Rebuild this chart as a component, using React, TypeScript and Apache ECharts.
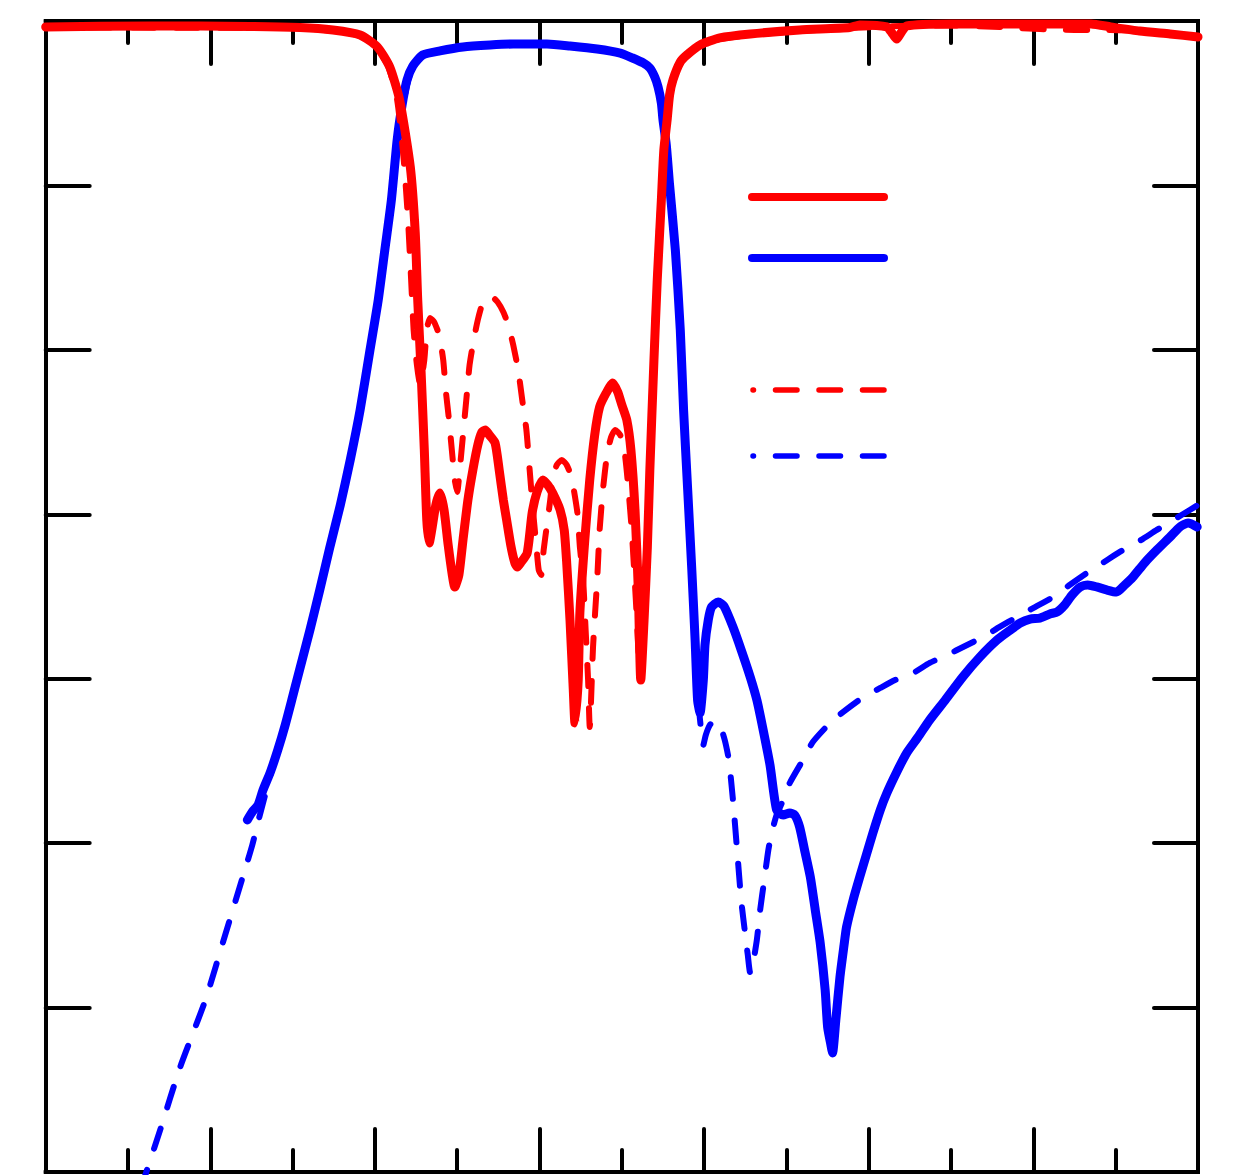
import React, { useEffect, useRef } from "react";
import * as echarts from "echarts";

// Frequency axis (arbitrary GHz units) and magnitude axis (dB)
const xTicks = { min: 0, max: 14, interval: 2 };
const yTicks = { min: -70, max: 0, interval: 10 };

// S11 measured (solid red)
const s11Measured: [number, number][] = [
  [0, -0.36], [1.27, -0.3], [2.48, -0.33], [3.09, -0.4], [3.49, -0.55], [3.82, -0.85], [4.03, -1.58],
  [4.18, -2.8], [4.3, -4.8], [4.43, -8.88], [4.49, -12.89], [4.52, -16.97], [4.56, -21.22], [4.6, -26.09],
  [4.63, -30.35], [4.66, -31.75], [4.69, -30.96], [4.74, -29.43], [4.79, -28.71], [4.84, -29.74],
  [4.89, -31.87], [4.94, -33.69], [4.97, -34.42], [5.02, -33.69], [5.07, -31.56], [5.13, -29.13],
  [5.19, -27.31], [5.25, -25.79], [5.3, -25.0], [5.34, -24.87], [5.39, -25.18], [5.46, -25.66],
  [5.51, -27.31], [5.56, -29.13], [5.6, -30.35], [5.65, -31.87], [5.7, -32.96], [5.73, -33.21],
  [5.77, -32.96], [5.85, -32.35], [5.91, -29.92], [5.97, -28.64], [6.04, -27.91], [6.1, -28.22],
  [6.16, -28.71], [6.25, -29.74], [6.3, -30.96], [6.33, -32.96], [6.37, -36.43], [6.41, -40.69],
  [6.43, -42.69], [6.47, -40.08], [6.49, -36.0], [6.55, -31.56], [6.61, -27.91], [6.67, -25.18],
  [6.73, -23.47], [6.81, -22.62], [6.89, -22.01], [6.95, -22.56], [7.0, -23.35], [7.06, -24.26],
  [7.11, -26.09], [7.16, -29.74], [7.2, -34.6], [7.23, -40.08], [7.27, -36.43], [7.31, -31.99],
  [7.34, -27.31], [7.39, -20.62], [7.43, -15.75], [7.48, -10.89], [7.51, -7.85], [7.55, -6.02],
  [7.58, -4.5], [7.62, -3.59], [7.71, -2.49], [7.79, -2.07], [7.95, -1.46], [8.19, -1.03],
  [8.56, -0.79], [9.16, -0.55], [9.77, -0.4], [9.89, -0.24], [10.22, -0.36], [10.29, -0.79],
  [10.34, -1.1], [10.39, -0.73], [10.46, -0.3], [10.99, -0.18], [11.59, -0.18], [12.2, -0.18],
  [12.7, -0.18], [12.94, -0.36], [13.29, -0.61], [13.66, -0.79], [14, -0.97],
];

// S21 measured (solid blue)
const s21Measured: [number, number][] = [
  [2.45, -48.59], [2.51, -48.1], [2.58, -47.68], [2.64, -46.77], [2.73, -45.67], [2.82, -44.33],
  [2.91, -42.81], [2.99, -41.29], [3.09, -39.35], [3.21, -37.04], [3.33, -34.6], [3.45, -32.05],
  [3.58, -29.43], [3.7, -26.7], [3.82, -23.66], [3.94, -20.01], [4.04, -16.97], [4.12, -13.93],
  [4.2, -10.89], [4.27, -7.24], [4.33, -5.11], [4.39, -3.59], [4.46, -2.74], [4.58, -2.07],
  [4.79, -1.82], [5.07, -1.58], [5.4, -1.46], [5.68, -1.4], [6.09, -1.4], [6.37, -1.52],
  [6.7, -1.7], [6.98, -1.95], [7.13, -2.25], [7.26, -2.55], [7.34, -2.86], [7.4, -3.41],
  [7.44, -4.01], [7.48, -4.99], [7.5, -6.02], [7.54, -7.54], [7.58, -9.97], [7.65, -13.93],
  [7.71, -18.79], [7.75, -23.66], [7.8, -28.52], [7.85, -33.39], [7.89, -37.64], [7.92, -41.29],
  [7.95, -42.08], [7.99, -40.08], [8.01, -37.95], [8.05, -36.43], [8.09, -35.64], [8.17, -35.33],
  [8.24, -35.58], [8.35, -36.85], [8.45, -38.25], [8.56, -39.9], [8.64, -41.29], [8.71, -42.94],
  [8.8, -45.25], [8.88, -47.98], [8.96, -48.29], [9.04, -48.17], [9.1, -48.29], [9.16, -49.02],
  [9.22, -50.42], [9.29, -52.06], [9.35, -54.07], [9.41, -56.07], [9.47, -58.93], [9.5, -61.18],
  [9.54, -62.27], [9.56, -62.76], [9.6, -60.75], [9.65, -58.14], [9.7, -56.19], [9.73, -55.1],
  [9.81, -53.46], [9.89, -52.06], [9.97, -50.72], [10.05, -49.38], [10.14, -47.98], [10.22, -46.95],
  [10.34, -45.67], [10.46, -44.52], [10.6, -43.54], [10.74, -42.51], [10.93, -41.29], [11.14, -39.9],
  [11.35, -38.68], [11.56, -37.64], [11.72, -37.04], [11.84, -36.61], [11.96, -36.37], [12.08, -36.31],
  [12.2, -36.06], [12.29, -35.94], [12.38, -35.52], [12.47, -34.91], [12.57, -34.42], [12.66, -34.3],
  [12.77, -34.42], [12.89, -34.6], [13.01, -34.73], [13.11, -34.3], [13.21, -33.81], [13.35, -32.96],
  [13.5, -32.17], [13.66, -31.38], [13.78, -30.77], [13.88, -30.53], [13.99, -30.77],
];

// S11 simulated (dashed red)
const s11Simulated: [number, number][] = [
  [0, -0.4], [3.09, -0.43], [3.49, -0.61], [3.82, -0.91], [4.0, -1.52], [4.16, -2.74], [4.27, -4.8],
  [4.35, -8.45], [4.4, -11.92], [4.44, -15.75], [4.47, -18.79], [4.51, -20.92], [4.55, -22.14],
  [4.6, -20.62], [4.63, -18.79], [4.67, -18.06], [4.72, -18.31], [4.78, -19.1], [4.83, -20.62],
  [4.86, -22.44], [4.9, -24.26], [4.94, -26.39], [4.97, -27.91], [5.0, -28.64], [5.03, -27.31],
  [5.07, -25.18], [5.11, -23.05], [5.15, -20.92], [5.2, -19.4], [5.25, -18.18], [5.3, -17.27],
  [5.35, -16.85], [5.42, -16.79], [5.49, -17.09], [5.56, -17.7], [5.62, -18.49], [5.68, -19.7],
  [5.74, -21.22], [5.79, -23.05], [5.84, -24.87], [5.88, -27.31], [5.92, -29.74], [5.96, -31.87],
  [5.99, -33.39], [6.02, -33.69], [6.05, -32.17], [6.09, -30.65], [6.13, -29.13], [6.16, -27.79],
  [6.21, -27.0], [6.27, -26.7], [6.33, -27.0], [6.39, -27.79], [6.46, -29.92], [6.49, -31.99],
  [6.53, -33.99], [6.56, -37.04], [6.59, -40.08], [6.61, -42.94], [6.65, -38.07], [6.7, -33.99],
  [6.73, -30.96], [6.77, -28.52], [6.82, -26.39], [6.87, -25.3], [6.92, -24.87], [6.98, -25.18],
  [7.03, -26.09], [7.07, -27.91], [7.12, -30.96], [7.17, -35.21], [7.22, -39.47], [7.26, -37.64],
  [7.31, -31.56], [7.35, -24.87], [7.4, -18.18], [7.45, -12.71], [7.5, -8.45], [7.55, -5.72],
  [7.61, -3.71], [7.71, -2.55], [7.83, -1.89], [8.01, -1.28], [8.56, -0.85], [9.16, -0.61],
  [9.77, -0.43], [10.38, -0.3], [10.99, -0.27], [11.59, -0.36], [12.08, -0.49], [12.57, -0.55],
  [12.93, -0.55], [13.29, -0.61], [13.66, -0.79], [14, -0.97],
];

// S21 simulated (dashed blue)
const s21Simulated: [number, number][] = [
  [1.15, -71.1], [1.39, -67.45], [1.63, -63.67], [1.94, -59.54], [2.18, -55.59], [2.42, -51.63],
  [2.51, -50.11], [2.58, -48.71], [2.65, -47.38], [2.73, -45.85], [2.91, -42.93], [3.09, -39.47],
  [3.33, -34.72], [3.58, -29.43], [3.82, -23.54], [4.04, -16.85], [4.2, -10.58], [4.27, -7.85],
  [4.33, -5.53], [4.39, -3.89], [4.46, -2.74], [4.58, -2.07], [4.79, -1.82], [5.07, -1.58],
  [5.4, -1.46], [5.68, -1.4], [6.09, -1.4], [6.37, -1.52], [6.7, -1.7], [6.98, -1.95], [7.13, -2.25],
  [7.26, -2.55], [7.34, -2.9], [7.4, -3.47], [7.44, -4.07], [7.48, -5.05], [7.5, -6.14],
  [7.54, -7.72], [7.58, -10.28], [7.65, -14.23], [7.71, -19.1], [7.75, -23.96], [7.8, -28.82],
  [7.85, -33.69], [7.89, -37.64], [7.92, -40.69], [7.95, -42.51], [7.99, -44.03], [8.02, -43.42],
  [8.07, -42.81], [8.13, -42.57], [8.19, -42.81], [8.25, -43.73], [8.3, -44.94], [8.35, -47.38],
  [8.4, -50.42], [8.45, -53.46], [8.5, -55.59], [8.53, -56.8], [8.56, -57.9], [8.59, -57.41],
  [8.64, -55.89], [8.68, -54.07], [8.73, -52.24], [8.78, -50.42], [8.82, -49.38], [8.88, -48.29],
  [8.96, -47.38], [9.04, -46.34], [9.2, -44.94], [9.32, -43.85], [9.53, -42.69], [9.69, -42.02],
  [9.92, -41.17], [10.14, -40.56], [10.32, -40.08], [10.54, -39.65], [10.74, -39.04], [10.95, -38.56],
  [11.17, -38.01], [11.39, -37.46], [11.59, -36.85], [11.8, -36.25], [12.02, -35.64], [12.24, -35.03],
  [12.44, -34.3], [12.65, -33.57], [12.86, -32.9], [13.05, -32.29], [13.29, -31.62], [13.5, -30.95],
  [13.72, -30.29], [13.9, -29.74], [14, -29.43],
];

const RED = "#ff0000";
const BLUE = "#0000ff";
const DASH = [21.5, 22];

function App() {
  const ref = useRef<HTMLDivElement | null>(null);

  useEffect(() => {
    if (!ref.current) return;
    const chart = echarts.init(ref.current, undefined, { renderer: "svg" });

    const tickStyle = { color: "#000", width: 4, cap: "round" as const };
    const xAxisBase = {
      type: "value" as const,
      min: xTicks.min,
      max: xTicks.max,
      interval: xTicks.interval,
      axisLine: { show: true, onZero: false, lineStyle: { color: "#000", width: 4, cap: "square" as const } },
      axisTick: { show: true, inside: true, length: 43, lineStyle: tickStyle },
      minorTick: { show: true, splitNumber: 2, length: 22, lineStyle: tickStyle },
      axisLabel: { show: false },
      splitLine: { show: false },
      minorSplitLine: { show: false },
    };
    const yAxisBase = {
      type: "value" as const,
      min: yTicks.min,
      max: yTicks.max,
      interval: yTicks.interval,
      axisLine: { show: true, onZero: false, lineStyle: { color: "#000", width: 4, cap: "square" as const } },
      axisTick: { show: true, inside: true, length: 44, lineStyle: tickStyle },
      axisLabel: { show: false },
      splitLine: { show: false },
    };

    const mkSeries = (name: string, data: [number, number][], color: string, dashed: boolean, z: number) => ({
      name,
      type: "line" as const,
      data,
      showSymbol: false,
      symbol: "none",
      smooth: 0.2,
      z,
      lineStyle: {
        color,
        width: dashed ? 6 : 9,
        type: dashed ? DASH : "solid",
        cap: "round",
        join: "round",
      },
    });

    const legendLine = (y: number, color: string, dashed: boolean) => ({
      type: "line" as const,
      z: 100,
      shape: { x1: dashed ? 753 : 752, y1: y, x2: 884, y2: y },
      style: {
        stroke: color,
        lineWidth: dashed ? 5.5 : 8,
        lineCap: "round",
        lineDash: dashed ? DASH : null,
        lineDashOffset: dashed ? 20.5 : 0,
      },
    });

    chart.setOption({
      animation: false,
      backgroundColor: "#fff",
      grid: { left: 45.7, right: 41, top: 21, bottom: 4, containLabel: false },
      xAxis: [
        { ...xAxisBase, position: "bottom" },
        { ...xAxisBase, position: "top" },
      ],
      yAxis: [
        { ...yAxisBase, position: "left" },
        { ...yAxisBase, position: "right" },
      ],
      series: [
        mkSeries("S21 simulated", s21Simulated, BLUE, true, 2),
        mkSeries("S21 measured", s21Measured, BLUE, false, 3),
        mkSeries("S11 simulated", s11Simulated, RED, true, 4),
        mkSeries("S11 measured", s11Measured, RED, false, 5),
      ],
      graphic: [
        legendLine(197, RED, false),
        legendLine(258, BLUE, false),
        legendLine(390, RED, true),
        legendLine(456, BLUE, true),
      ],
    });

    return () => chart.dispose();
  }, []);

  return (
    <div
      ref={ref}
      style={{ position: "absolute", left: 0, top: 0, width: 1239, height: 1176, background: "#fff" }}
    />
  );
}

export default App;
